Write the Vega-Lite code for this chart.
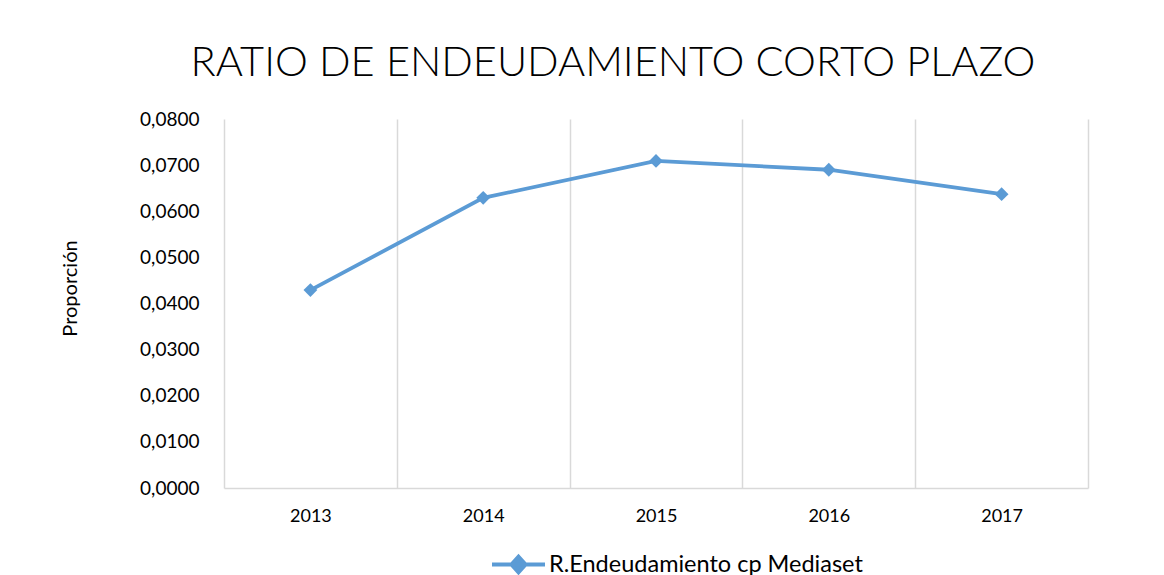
{
  "$schema": "https://vega.github.io/schema/vega-lite/v6.json",
  "autosize": {"type": "none"},
  "width": 864,
  "height": 369,
  "padding": {"left": 224, "top": 119, "right": 76, "bottom": 87},
  "background": "white",
  "title": {
    "text": "RATIO DE ENDEUDAMIENTO CORTO PLAZO",
    "font": "Lato",
    "fontSize": 41.5,
    "fontWeight": 300,
    "color": "#000000",
    "anchor": "middle",
    "frame": "group",
    "baseline": "alphabetic",
    "offset": -7,
    "dx": -43
  },
  "data": {
    "values": [
      {"year": "2013", "value": 0.0429, "series": "R.Endeudamiento cp Mediaset"},
      {"year": "2014", "value": 0.0629, "series": "R.Endeudamiento cp Mediaset"},
      {"year": "2015", "value": 0.0709, "series": "R.Endeudamiento cp Mediaset"},
      {"year": "2016", "value": 0.0690, "series": "R.Endeudamiento cp Mediaset"},
      {"year": "2017", "value": 0.0637, "series": "R.Endeudamiento cp Mediaset"}
    ]
  },
  "mark": {
    "type": "line",
    "strokeWidth": 3.8,
    "point": {"shape": "diamond", "size": 190, "filled": true, "opacity": 1}
  },
  "encoding": {
    "x": {
      "field": "year",
      "type": "ordinal",
      "scale": {"paddingInner": 0, "paddingOuter": 0},
      "axis": {
        "title": null,
        "labelAngle": 0,
        "ticks": false,
        "tickSize": 0,
        "tickBand": "extent",
        "grid": true,
        "gridColor": "#D9D9D9",
        "gridWidth": 1.5,
        "domain": true,
        "domainColor": "#D9D9D9",
        "domainWidth": 1.5,
        "labelFont": "Lato",
        "labelFontSize": 18,
        "labelColor": "#000000",
        "labelPadding": 19,
        "labelBaseline": "top"
      }
    },
    "y": {
      "field": "value",
      "type": "quantitative",
      "scale": {"domain": [0, 0.08], "nice": false},
      "axis": {
        "title": "Proporción",
        "values": [0, 0.01, 0.02, 0.03, 0.04, 0.05, 0.06, 0.07, 0.08],
        "format": ".4f",
        "grid": false,
        "domain": false,
        "ticks": false,
        "tickSize": 0,
        "labelPadding": 25,
        "labelFont": "Lato",
        "labelFontSize": 19,
        "labelColor": "#000000",
        "titleFont": "Lato",
        "titleFontSize": 20,
        "titleFontWeight": "normal",
        "titleColor": "#000000",
        "titleAngle": -90,
        "titleX": -154,
        "titleY": 169,
        "titleAlign": "center",
        "titleBaseline": "middle"
      }
    },
    "color": {
      "field": "series",
      "type": "nominal",
      "scale": {"range": ["#5B9BD5"]},
      "legend": {
        "title": null,
        "orient": "none",
        "legendX": 266,
        "legendY": 417,
        "symbolType": "M-1,0L1,0M-0.27,0L0,-0.3L0.27,0L0,0.3Z",
        "symbolSize": 2809,
        "symbolStrokeWidth": 3.8,
        "symbolFillColor": "#5B9BD5",
        "symbolStrokeColor": "#5B9BD5",
        "labelFont": "Lato",
        "labelFontSize": 23.5,
        "labelLimit": 0,
        "labelColor": "#000000",
        "labelOffset": 2
      }
    }
  },
  "config": {
    "view": {"stroke": null},
    "locale": {
      "number": {"decimal": ",", "thousands": ".", "grouping": [3], "currency": ["", " €"]}
    }
  }
}
